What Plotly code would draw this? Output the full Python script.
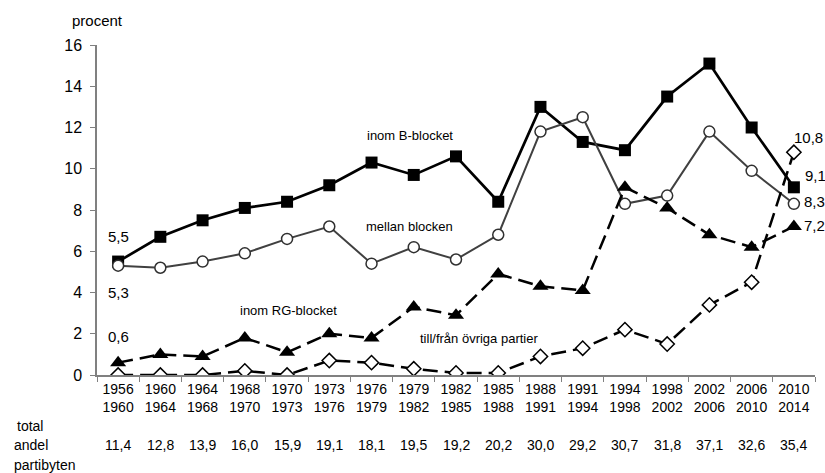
import plotly.graph_objects as go

periods = ["1956<br>1960", "1960<br>1964", "1964<br>1968", "1968<br>1970", "1970<br>1973",
           "1973<br>1976", "1976<br>1979", "1979<br>1982", "1982<br>1985", "1985<br>1988",
           "1988<br>1991", "1991<br>1994", "1994<br>1998", "1998<br>2002", "2002<br>2006",
           "2006<br>2010", "2010<br>2014"]

inom_b = [5.5, 6.7, 7.5, 8.1, 8.4, 9.2, 10.3, 9.7, 10.6, 8.4, 13.0, 11.3, 10.9, 13.5, 15.1, 12.0, 9.1]
mellan = [5.3, 5.2, 5.5, 5.9, 6.6, 7.2, 5.4, 6.2, 5.6, 6.8, 11.8, 12.5, 8.3, 8.7, 11.8, 9.9, 8.3]
inom_rg = [0.6, 1.0, 0.9, 1.8, 1.1, 2.0, 1.8, 3.3, 2.9, 4.9, 4.3, 4.1, 9.1, 8.1, 6.8, 6.2, 7.2]
ovriga = [0.0, 0.0, 0.0, 0.2, 0.0, 0.7, 0.6, 0.3, 0.1, 0.1, 0.9, 1.3, 2.2, 1.5, 3.4, 4.5, 10.8]
totals = ["11,4", "12,8", "13,9", "16,0", "15,9", "19,1", "18,1", "19,5", "19,2", "20,2",
          "30,0", "29,2", "30,7", "31,8", "37,1", "32,6", "35,4"]

FONT = "Liberation Sans, Arial, sans-serif"

fig = go.Figure()
fig.add_trace(go.Scatter(x=periods, y=inom_b, mode="lines+markers", name="inom B-blocket",
                         line=dict(color="black", width=2.7),
                         marker=dict(symbol="square", size=12, color="black")))
fig.add_trace(go.Scatter(x=periods, y=mellan, mode="lines+markers", name="mellan blocken",
                         line=dict(color="#404040", width=2),
                         marker=dict(symbol="circle", size=11, color="white",
                                     line=dict(color="#303030", width=1.5))))
fig.add_trace(go.Scatter(x=periods, y=inom_rg, mode="lines+markers", name="inom RG-blocket",
                         line=dict(color="black", width=2.5, dash="15px,7px"),
                         marker=dict(symbol="triangle-up", size=14, color="black")))
fig.add_trace(go.Scatter(x=periods, y=ovriga, mode="lines+markers", name="till/från övriga partier",
                         line=dict(color="black", width=2.5, dash="15px,7px"),
                         marker=dict(symbol="diamond", size=11, color="white",
                                     line=dict(color="black", width=1.5))))

ann = []
# series labels
for txt, xi, yv in [("inom B-blocket", 6.91, 11.6), ("mellan blocken", 6.91, 7.2),
                    ("inom RG-blocket", 4.04, 3.15), ("till/från övriga partier", 8.54, 1.75)]:
    ann.append(dict(x=xi, y=yv, xref="x", yref="y", text=txt, showarrow=False,
                    xanchor="center", yanchor="middle",
                    font=dict(size=13, color="black", family=FONT)))
# value labels at first point
n = len(periods)
for txt, yv, ys in [("5,5", inom_b[0], 25), ("5,3", mellan[0], -27), ("0,6", inom_rg[0], 26)]:
    ann.append(dict(x=0, y=yv, xref="x", yref="y", text=txt, showarrow=False, yshift=ys,
                    xanchor="center", yanchor="middle",
                    font=dict(size=15, color="black", family=FONT)))
# value labels at last point
for txt, yv, xs, ys in [("10,8", ovriga[-1], -2, 15), ("9,1", inom_b[-1], 9, 12),
                        ("8,3", mellan[-1], 8, 2), ("7,2", inom_rg[-1], 8, 1)]:
    ann.append(dict(x=n - 1, y=yv, xref="x", yref="y", text=txt, showarrow=False,
                    xanchor="left", yanchor="middle", xshift=xs, yshift=ys,
                    font=dict(size=15, color="black", family=FONT)))
# totals row
for i, t in enumerate(totals):
    ann.append(dict(x=i, y=-0.212, xref="x", yref="paper", text=t, showarrow=False,
                    xanchor="center", yanchor="middle",
                    font=dict(size=14, color="black", family=FONT)))
for txt, xp, yp in [("total", -0.114, -0.156), ("andel", -0.118, -0.212), ("partibyten", -0.118, -0.274)]:
    ann.append(dict(x=xp, y=yp, xref="paper", yref="paper", text=txt, showarrow=False,
                    xanchor="left", yanchor="middle",
                    font=dict(size=14, color="black", family=FONT)))
ann.append(dict(x=-0.038, y=1.073, xref="paper", yref="paper", text="procent", showarrow=False,
                xanchor="left", yanchor="middle",
                font=dict(size=15, color="black", family=FONT)))

fig.update_layout(
    width=825, height=473,
    margin=dict(l=97, r=10, t=45, b=98),
    paper_bgcolor="white", plot_bgcolor="white",
    showlegend=False,
    font=dict(family=FONT, color="black"),
    annotations=ann,
)
fig.update_xaxes(type="category", tickson="boundaries", ticks="outside", ticklen=5,
                 tickcolor="#808080", showline=True, linecolor="#808080", linewidth=1.5,
                 showgrid=False, zeroline=False, tickangle=0,
                 tickfont=dict(size=14, color="black", family=FONT), range=[-0.5, n - 0.5])
fig.update_yaxes(range=[0, 16], dtick=2, ticks="outside", ticklen=5, tickcolor="#808080",
                 showline=True, linecolor="#808080", linewidth=1.5, showgrid=False,
                 zeroline=False, ticklabelstandoff=5,
                 tickfont=dict(size=16, color="black", family=FONT))

fig.write_html("out.html", config={"displayModeBar": False},
               post_script="document.body.style.margin='0px';document.body.style.overflow='hidden';")
